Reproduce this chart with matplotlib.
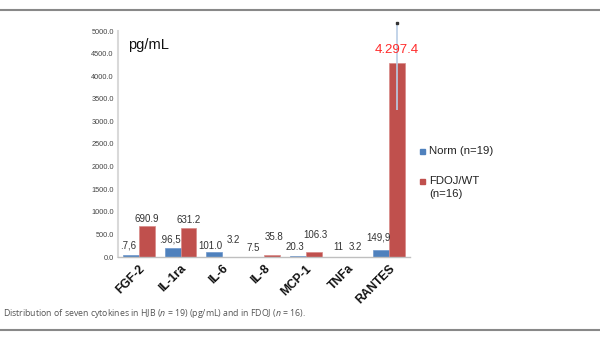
import matplotlib
matplotlib.use("Agg")
import matplotlib.pyplot as plt
import numpy as np
from matplotlib.lines import Line2D

plt.rcParams['font.family'] = ['Liberation Sans', 'DejaVu Sans']

categories = ["FGF-2", "IL-1ra", "IL-6", "IL-8", "MCP-1", "TNFa", "RANTES"]
norm_vals = [37.6, 196.5, 101.0, 7.5, 20.3, 11.0, 149.9]
fdoj_vals = [690.9, 631.2, 3.2, 35.8, 106.3, 3.2, 4297.4]
norm_labels = [".7,6", ".96,5", "101.0", "7.5", "20.3", "11", "149,9"]
fdoj_labels = ["690.9", "631.2", "3.2", "35.8", "106.3", "3.2", "4.297.4"]
rantes_err_low = 1045.0
rantes_err_high = 887.0
yticks = np.arange(0, 5001, 500)

# label pixel offsets (dx, dy) styling
norm_off = [(-3, 5), (-3, 4), (-4, 1), (-3, 4), (-3, 4), (-1, 5), (-3, 8)]
fdoj_off = [(0, 2), (0, 3), (3, 12), (2, 13), (2, 12), (0, 5), (0, 7)]

BLUE = "#4f81bd"
RED = "#c0504d"

fig = plt.figure(figsize=(6.0, 3.38), dpi=100)
ax = fig.add_axes([118/600, 1-257/338, 292/600, (257-31)/338])

x = np.arange(len(categories))
w = 0.38
ax.bar(x - w/2, norm_vals, width=w, color=BLUE, edgecolor="#6f97cc", linewidth=0.5)
ax.bar(x + w/2, fdoj_vals, width=w, color=RED, edgecolor="#d98a88", linewidth=0.5)

ax.errorbar(x[-1] + w/2, fdoj_vals[-1], yerr=[[rantes_err_low], [rantes_err_high]],
            fmt='none', ecolor="#b9cde5", elinewidth=1.2, capsize=0, clip_on=False, zorder=3)
ax.plot([x[-1] + w/2], [fdoj_vals[-1] + rantes_err_high], 's', color="#333333",
        markersize=2, clip_on=False, zorder=4)

for i in range(len(categories)):
    ax.annotate(norm_labels[i], (x[i] - w/2, norm_vals[i]), xytext=norm_off[i],
                textcoords='offset pixels', ha='center', va='bottom', fontsize=7, color="#333333")
    if i == len(categories) - 1:
        ax.annotate(fdoj_labels[i], (x[i] + w/2, fdoj_vals[i]), xytext=fdoj_off[i],
                    textcoords='offset pixels', ha='center', va='bottom', fontsize=9.5,
                    color="#ff2a2a")
    else:
        ax.annotate(fdoj_labels[i], (x[i] + w/2, fdoj_vals[i]), xytext=fdoj_off[i],
                    textcoords='offset pixels', ha='center', va='bottom', fontsize=7, color="#333333")

ax.set_xlim(-0.5, len(categories) - 0.5)
ax.set_ylim(0, 5000)
ax.set_yticks(yticks)
ax.set_yticklabels([f"{v:.1f}" for v in yticks], fontsize=5.3, color="#444444")
ax.set_xticks(x)
ax.set_xticklabels(categories, rotation=45, ha='right', rotation_mode='anchor',
                   fontsize=8.7, fontweight='bold', color="#111111")
ax.tick_params(axis='both', length=0, pad=3)
ax.tick_params(axis='x', pad=4)
for s in ['top', 'right']:
    ax.spines[s].set_visible(False)
ax.spines['left'].set_color("#d9d9d9")
ax.spines['left'].set_linewidth(1.5)
ax.spines['bottom'].set_color("#bfbfbf")
ax.spines['bottom'].set_linewidth(1.0)

fig.text(128/600, 1-45/338, "pg/mL", fontsize=10.5, va='center', ha='left', color="#111111")

# legend
fig.patches.append(plt.Rectangle((420/600, 1-154/338), 5/600, 5/338, color=BLUE,
                                 transform=fig.transFigure, figure=fig))
fig.text(429/600, 1-151/338, "Norm (n=19)", fontsize=8.2, va='center', color="#222222")
fig.patches.append(plt.Rectangle((420/600, 1-184/338), 5/600, 5/338, color=RED,
                                 transform=fig.transFigure, figure=fig))
fig.text(429/600, 1-181/338, "FDOJ/WT", fontsize=8.2, va='center', color="#222222")
fig.text(429/600, 1-194/338, "(n=16)", fontsize=8.2, va='center', color="#222222")

# frame lines
fig.add_artist(Line2D([0, 1], [1-10/338, 1-10/338], color="#888888", linewidth=1.5,
                      transform=fig.transFigure))
fig.add_artist(Line2D([0, 1], [1-330/338, 1-330/338], color="#888888", linewidth=1.5,
                      transform=fig.transFigure))

plt.rcParams['mathtext.fontset'] = 'custom'
plt.rcParams['mathtext.it'] = 'Open Sans:italic'
plt.rcParams['mathtext.rm'] = 'Open Sans'
fig.text(3/600, 1-313/338,
         "Distribution of seven cytokines in HJB ($n$ = 19) (pg/mL) and in FDOJ ($n$ = 16).",
         fontsize=6.3, family='Open Sans', color="#555555", va='center', ha='left')

fig.savefig("out.png", dpi=100)
